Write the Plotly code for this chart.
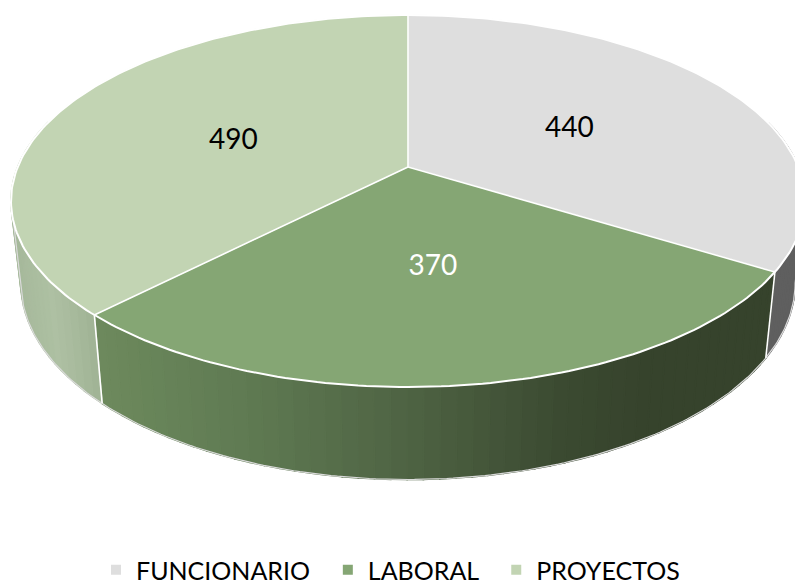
import math
import plotly.graph_objects as go

categories = ["FUNCIONARIO", "LABORAL", "PROYECTOS"]
values = [440, 370, 490]
top_colors = ["#DEDEDE", "#85A674", "#C2D4B3"]
label_colors = ["#000000", "#FFFFFF", "#000000"]
label_shift = [(-2, 5), (-1, 3), (0, 8)]

# perspective parameters of the tilted disc, in page pixels
CX = 408
K = 0.1828
TOP = dict(a=390.3, b=179.8, cy=167)
BASE = dict(a=380.6, b=190.0, cy=247)

# side wall colour stops (page x -> colour)
wall_stops = [
    [(0, "#5F5F5F"), (800, "#5F5F5F")],
    [(102, "#6D8A5D"), (250, "#5F7A52"), (400, "#4F6444"), (560, "#3B4A31"), (640, "#36432C"), (800, "#36432C")],
    [(0, "#A2B597"), (60, "#AEC0A3"), (102, "#A0B395"), (408, "#A0B395")],
]


def proj(theta, r, plane):
    s, c = math.sin(theta), math.cos(theta)
    w = 1 + K * r * c
    return CX + plane["a"] * r * s / w, plane["cy"] - plane["b"] * r * c / w


def hex2rgb(h):
    return [int(h[i:i + 2], 16) for i in (1, 3, 5)]


def wall_color(stops, x):
    if x <= stops[0][0]:
        return stops[0][1]
    for (x0, c0), (x1, c1) in zip(stops, stops[1:]):
        if x <= x1:
            t = (x - x0) / (x1 - x0)
            a, b = hex2rgb(c0), hex2rgb(c1)
            return "rgb(%d,%d,%d)" % tuple(round(p + (q - p) * t) for p, q in zip(a, b))
    return stops[-1][1]


total = sum(values)
angles = [0]
for v in values:
    angles.append(angles[-1] + v / total * 2 * math.pi)

fig = go.Figure()


def poly(xs, ys, fill, line="rgba(0,0,0,0)", width=0):
    fig.add_trace(go.Scatter(x=xs, y=ys, mode="lines", fill="toself", fillcolor=fill,
                             line=dict(color=line, width=width), hoverinfo="skip", showlegend=False))


def stroke(pts, color, width):
    fig.add_trace(go.Scatter(x=[q[0] for q in pts], y=[q[1] for q in pts], mode="lines",
                             line=dict(color=color, width=width), hoverinfo="skip", showlegend=False))


def wall_slices(i):
    a0, a1 = angles[i], angles[i + 1]
    steps = max(8, int((a1 - a0) / math.radians(2)))
    for j in range(steps):
        yield a0 + (a1 - a0) * j / steps, a0 + (a1 - a0) * (j + 1) / steps


# side walls
for i in range(3):
    for t0, t1 in wall_slices(i):
        if math.cos((t0 + t1) / 2) > 0.25:
            continue
        p = [proj(t0, 1, TOP), proj(t1, 1, TOP), proj(t1, 1, BASE), proj(t0, 1, BASE)]
        col = wall_color(wall_stops[i], (p[2][0] + p[3][0]) / 2)
        poly([q[0] for q in p] + [p[0][0]], [q[1] for q in p] + [p[0][1]], col, col, 1.6)

# silhouette: visible part of the lower edge plus the two tangents
tan = math.degrees(math.acos(-K))
steps = 200
sil = [proj(math.radians(-tan), 1, TOP)]
sil += [proj(math.radians(-tan - (360 - 2 * tan) * j / steps), 1, BASE) for j in range(steps + 1)]
sil += [proj(math.radians(tan), 1, TOP)]
stroke(sil, "#DADADA", 1.2)

# vertical white seams between walls
for a in angles[1:3]:
    stroke([proj(a, 1, TOP), proj(a, 1, BASE)], "#FFFFFF", 1.6)

# top surface fills
for i in range(3):
    a0, a1 = angles[i], angles[i + 1]
    steps = 160
    pts = [(CX, TOP["cy"])] + [proj(a0 + (a1 - a0) * j / steps, 1, TOP) for j in range(steps + 1)] + [(CX, TOP["cy"])]
    poly([q[0] for q in pts], [q[1] for q in pts], top_colors[i], top_colors[i], 0.5)

# white edges of the top surface, drawn over every fill
stroke([proj(2 * math.pi * j / 360, 1, TOP) for j in range(361)], "#FFFFFF", 2)
for a in angles[:3]:
    stroke([(CX, TOP["cy"]), proj(a, 1, TOP)], "#FFFFFF", 1.6)

# value labels
lx, ly = [], []
for i in range(3):
    x, y = proj((angles[i] + angles[i + 1]) / 2, 0.5, TOP)
    lx.append(x + label_shift[i][0])
    ly.append(y + label_shift[i][1])
fig.add_trace(go.Scatter(x=lx, y=ly, mode="text", text=[str(v) for v in values],
                         textposition="middle center",
                         textfont=dict(family="Lato", size=28, color=label_colors),
                         hoverinfo="skip", showlegend=False))

# legend (non-breaking spaces only widen the gap between entries)
for name, col in zip(categories, top_colors):
    fig.add_trace(go.Scatter(x=[None], y=[None], mode="markers", name=name + "\u00a0\u00a0",
                             marker=dict(symbol="square", size=10, color=col)))

fig.update_layout(
    width=795, height=584, margin=dict(l=0, r=0, t=0, b=0, autoexpand=False),
    paper_bgcolor="#FFFFFF", plot_bgcolor="#FFFFFF",
    xaxis=dict(range=[0, 795], visible=False, fixedrange=True),
    yaxis=dict(range=[584, 0], visible=False, fixedrange=True),
    legend=dict(orientation="h", x=96 / 795, xanchor="left", y=14 / 584, yanchor="middle",
                font=dict(family="Lato", size=25, color="#000000"),
                bgcolor="rgba(0,0,0,0)"),
    showlegend=True,
)
fig.write_html("out.html", config=dict(displayModeBar=False),
               post_script="document.body.style.margin='0';document.body.style.overflow='hidden';")
